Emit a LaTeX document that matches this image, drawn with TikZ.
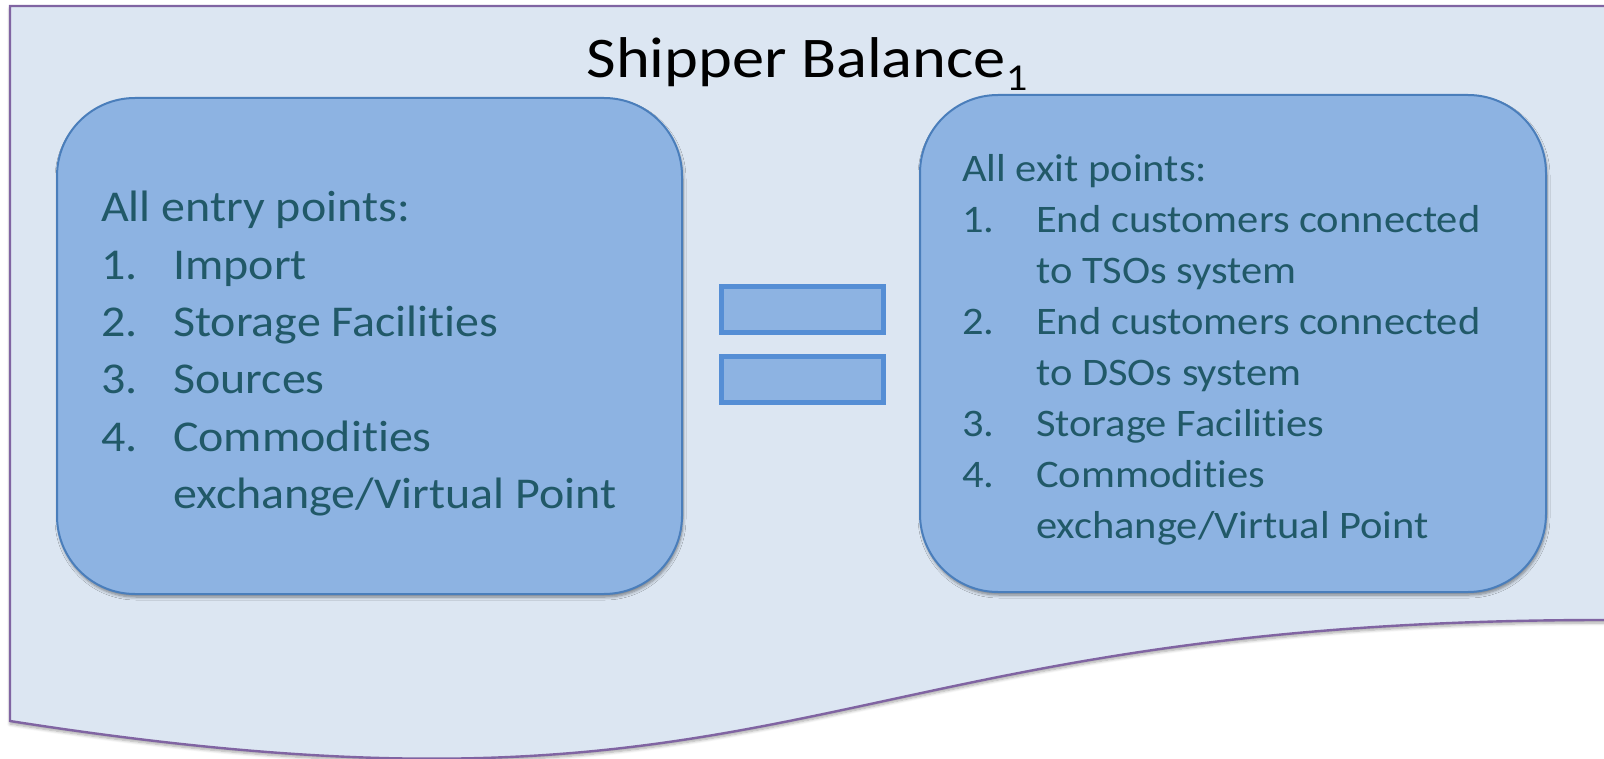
\documentclass[tikz,border=0pt]{standalone}
\usepackage{fontspec}
\setmainfont{Carlito}[Ligatures=NoCommon, FakeStretch=1.09]
\newfontfamily\titlefont{Carlito}[Ligatures=NoCommon, FakeStretch=1.12]
\usetikzlibrary{shadows.blur}

\definecolor{pagefill}{HTML}{DCE6F2}
\definecolor{pageline}{HTML}{8064A2}
\definecolor{boxfill}{HTML}{8DB3E2}
\definecolor{boxline}{HTML}{4A7EBB}
\definecolor{eqline}{HTML}{558ED5}
\definecolor{listtext}{HTML}{215968}

\tikzset{
  softshadow/.style={blur shadow={shadow xshift=1pt, shadow yshift=-3pt,
      shadow blur radius=3pt, shadow blur steps=6, shadow opacity=45}},
  pointbox/.style={draw=boxline, line width=2pt, fill=boxfill,
      rounded corners=78pt, softshadow, inner sep=0pt},
  eqbar/.style={draw=eqline, line width=5pt, fill=boxfill, inner sep=0pt,
      minimum width=162pt, minimum height=46pt},
  listtext/.style={text=listtext, inner sep=0pt, anchor=base west}
}

\begin{document}
\begin{tikzpicture}[x=1pt, y=-1pt]
  \useasboundingbox (0,0) rectangle (1604,759);
  \clip (0,0) rectangle (1604,759);

  % document-shaped page with a wavy lower edge
  \path[fill=pagefill, draw=pageline, line width=2.4pt,
        blur shadow={shadow xshift=0pt, shadow yshift=-3pt,
          shadow blur radius=3pt, shadow blur steps=6, shadow opacity=35}]
    (10,6) -- (1640,6) -- (1640,620) -- (1604,620)
    .. controls (807,620) and (807,846) .. (10,721) -- cycle;

  % title
  \node[anchor=base, inner sep=0pt] (title) at (807,78)
    {\titlefont\fontsize{57.5}{68}\selectfont Shipper
     Balance\raisebox{-13pt}{\fontsize{38}{40}\selectfont 1}};

  % entry and exit boxes
  \node[pointbox, minimum width=625pt, minimum height=496pt]
    (entrybox) at (369.5,346) {};
  \node[pointbox, minimum width=626pt, minimum height=497pt]
    (exitbox) at (1233,343.5) {};

  % equals sign
  \node[eqbar] (eqtop) at (802.5,309.5) {};
  \node[eqbar] (eqbottom) at (802.5,379.5) {};

  % entry list
  \node[listtext] (entrylist) at (101,222)
    {\fontsize{44}{57.3}\selectfont
     \begin{tabular}[t]{@{}l@{}}
       All entry points:\\
       \makebox[72pt][l]{1.}Import\\
       \makebox[72pt][l]{2.}Storage Facilities\\
       \makebox[72pt][l]{3.}Sources\\
       \makebox[72pt][l]{4.}Commodities\\
       \hspace*{72pt}exchange/Virtual Point
     \end{tabular}};

  % exit list
  \node[listtext] (exitlist) at (962,182)
    {\fontsize{39}{51}\selectfont
     \begin{tabular}[t]{@{}l@{}}
       All exit points:\\
       \makebox[74pt][l]{1.}End customers connected\\
       \hspace*{74pt}to TSOs system\\
       \makebox[74pt][l]{2.}End customers connected\\
       \hspace*{74pt}to DSOs system\\
       \makebox[74pt][l]{3.}Storage Facilities\\
       \makebox[74pt][l]{4.}Commodities\\
       \hspace*{74pt}exchange/Virtual Point
     \end{tabular}};
\end{tikzpicture}
\end{document}
